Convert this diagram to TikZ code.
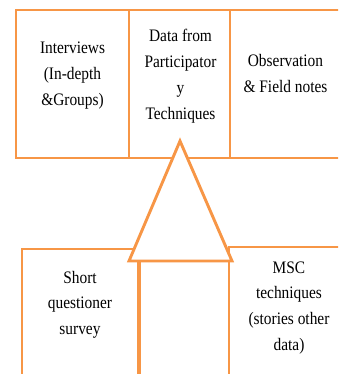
\documentclass[tikz,border=0pt]{standalone}
\usepackage{fontspec}
\setmainfont{Liberation Serif}
\usepackage{graphicx}
\definecolor{frame}{RGB}{247,150,70}
\newcommand{\cell}[1]{\scalebox{1}[1.14]{\fontsize{15.4}{22.8}\selectfont\begin{tabular}[t]{@{}c@{}}#1\end{tabular}}}
\tikzset{
  boxline/.style={draw=frame, line width=2.9pt, line join=miter},
  label/.style={inner sep=0pt, anchor=base, text=black}
}
\begin{document}
\begin{tikzpicture}[x=1pt, y=-1pt]
  \useasboundingbox (0,0) rectangle (338,374);
  \clip (0,0) rectangle (338,374);
  % upper row of three cells, the last one open to the right
  \draw[boxline] (16,10) rectangle (129,158);
  \draw[boxline] (129,10) rectangle (230,158);
  \draw[boxline] (230,10) rectangle (360,158);
  % lower row, open at the bottom
  \draw[boxline] (22,249) rectangle (138,400);
  \draw[boxline] (229,247) rectangle (360,400);
  % upward arrow: stem and head, filled so it hides the lines behind it
  \fill[white] (139,261) rectangle (229,400);
  \draw[boxline] (139.5,261) -- (139.5,400);
  \draw[boxline] (229,261) -- (229,400);
  \draw[boxline, fill=white] (180,141) -- (232,261) -- (129,261) -- cycle;
  % texts
  \node[label] (interviews) at (72.5,54) {\cell{Interviews\\(In-depth\\\&Groups)}};
  \node[label] (data) at (180.5,42) {\cell{Data from\\Participator\\y\\Techniques}};
  \node[label] (observation) at (285.5,67) {\cell{Observation\\\& Field notes}};
  \node[label] (survey) at (80,283) {\cell{Short\\questioner\\survey}};
  \node[label] (msc) at (289,273) {\cell{MSC\\techniques\\(stories other\\data)}};
\end{tikzpicture}
\end{document}
